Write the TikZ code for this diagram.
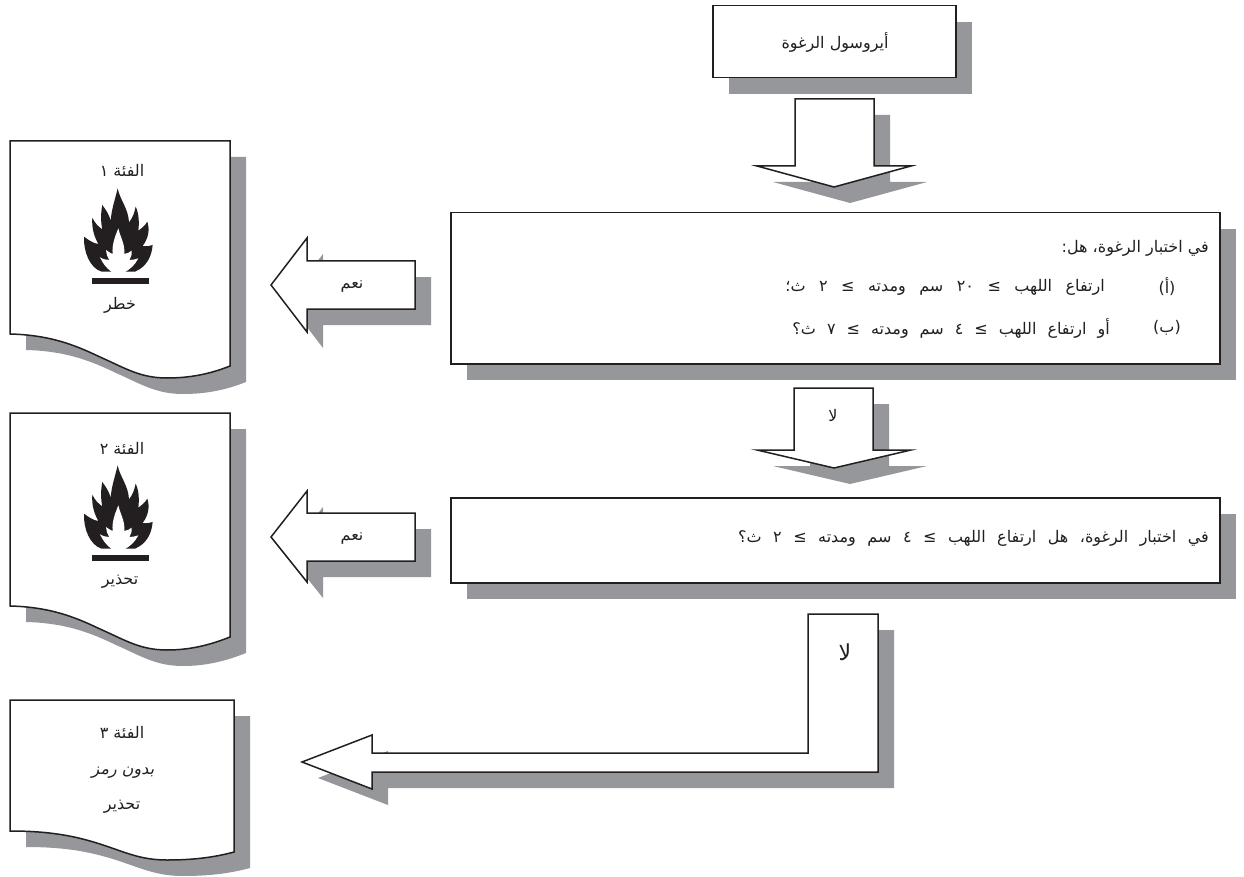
\documentclass[tikz,border=0pt]{standalone}
\usepackage{fontspec}
\usetikzlibrary{shadows}
\TeXXeTstate=1
\newfontfamily\arabicfont[Script=Arabic]{DejaVu Sans}
\newfontfamily\arabicslant[Script=Arabic,FakeSlant=0.2]{DejaVu Sans}
\newcommand\artxt[1]{\arabicfont\beginR #1\endR}
\newcommand\arnum[1]{\beginL #1\endL{}}
\definecolor{shadegrey}{RGB}{150,151,154}
\definecolor{inkblack}{RGB}{35,31,32}
\tikzset{
  shaded shape/.style={draw=inkblack,fill=white,line width=1.5pt,line join=miter,
    general shadow={fill=shadegrey,draw=none,shadow xshift=16pt,shadow yshift=-16pt}},
  question/.style={shaded shape,rectangle,inner sep=0pt,anchor=north west},
  label/.style={inner sep=0pt,text=inkblack,font=\fontsize{16}{18}\selectfont},
  biglabel/.style={label,font=\fontsize{22}{24}\selectfont},
  pics/flame/.style={code={
   \begin{scope}[x=0.3333pt,y=-0.3333pt]
    \fill[inkblack] (42,170) .. controls (55,180) and (70,190) .. (85,192)
      .. controls (70,165) and (65,140) .. (67,113)
      .. controls (75,130) and (85,140) .. (97,148)
      .. controls (92,125) and (92,100) .. (97,75)
      .. controls (108,90) and (118,105) .. (122,122)
      .. controls (125,85) and (135,60) .. (143,25)
      .. controls (150,60) and (175,85) .. (177,127)
      .. controls (187,115) and (193,100) .. (197,80)
      .. controls (207,100) and (208,130) .. (205,152)
      .. controls (215,145) and (225,137) .. (232,125)
      .. controls (240,150) and (235,175) .. (218,198)
      .. controls (230,200) and (240,198) .. (248,195)
      .. controls (245,230) and (230,260) .. (195,275)
      -- (95,275)
      .. controls (60,265) and (40,215) .. (42,170) -- cycle;
    \fill[white] (145,145) .. controls (152,175) and (165,190) .. (163,222)
      .. controls (172,220) and (180,217) .. (185,212)
      .. controls (186,225) and (183,232) .. (178,240)
      .. controls (188,240) and (197,238) .. (205,235)
      .. controls (195,255) and (180,268) .. (165,276)
      -- (125,276) .. controls (110,265) and (98,250) .. (90,232)
      .. controls (100,238) and (110,240) .. (118,240)
      .. controls (112,230) and (108,220) .. (108,210)
      .. controls (115,215) and (122,220) .. (128,222)
      .. controls (125,195) and (135,170) .. (145,145) -- cycle;
    \fill[inkblack] (67,295) rectangle (237,312);
   \end{scope}
  }}
}
\begin{document}
\begin{tikzpicture}[x=1pt,y=-1pt]
\useasboundingbox (0,0) rectangle (1244,877);

% top box
\node[question,minimum width=243pt,minimum height=72pt] (aerosol) at (712,5) {};
\node[label] (aerosoltxt) at (835,42) {\artxt{أيروسول الرغوة}};

% down arrow 1
\draw[shaded shape] (795,99) -- (874,99) -- (874,166) -- (911,166) -- (834,187) -- (757,166) -- (795,166) -- cycle;

% question 1
\node[question,minimum width=769pt,minimum height=151pt] (qone) at (450,212) {};
\node[label,anchor=east] (qonea) at (1209,248) {\artxt{في اختبار الرغوة، هل:}};
\node[label] (qoneb) at (1167,287) {\artxt{(أ)}};
\node[label,anchor=east] (qonec) at (1105,287) {\spaceskip=13.5pt\artxt{ارتفاع اللهب ≥ \arnum{٢٠} سم ومدته ≥ ٢ ث؛}};
\node[label] (qoned) at (1167,328) {\artxt{(ب)}};
\node[label,anchor=east] (qonee) at (1110,328) {\spaceskip=11pt\artxt{أو ارتفاع اللهب ≥ ٤ سم ومدته ≥ ٧ ث؟}};

% yes arrow 1
\draw[shaded shape] (415,261) -- (415,309) -- (307,309) -- (307,332) -- (271,285) -- (307,238) -- (307,261) -- cycle;
\node[label] (yesone) at (352,287) {\artxt{نعم}};

% down arrow 2
\draw[shaded shape] (794,388) -- (873,388) -- (873,450) -- (911,450) -- (834,468) -- (757,450) -- (794,450) -- cycle;
\node[label] (noone) at (833,415) {\artxt{لا}};

% question 2
\node[question,minimum width=769pt,minimum height=85pt] (qtwo) at (450,497) {};
\node[label,anchor=east] (qtwotxt) at (1209,538) {\spaceskip=11.5pt\artxt{في اختبار الرغوة، هل ارتفاع اللهب ≥ ٤ سم ومدته ≥ ٢ ث؟}};

% yes arrow 2
\draw[shaded shape] (415,513) -- (415,561) -- (307,561) -- (307,582) -- (271,537) -- (307,491) -- (307,513) -- cycle;
\node[label] (yestwo) at (352,539) {\artxt{نعم}};

% L arrow
\draw[shaded shape] (808,614) -- (878,614) -- (878,772) -- (372,772) -- (372,789) -- (302,762) -- (372,735) -- (372,753) -- (808,753) -- cycle;
\node[biglabel] (notwo) at (845,652) {\artxt{لا}};

% category 1
\draw[shaded shape] (10,141) -- (230,141) -- (230,366) .. controls (210,374) and (190,378) .. (167,378)
  .. controls (140,378) and (125,368) .. (100,357) .. controls (75,345) and (50,335) .. (10,334) -- cycle;
\node[label] (catone) at (122,170) {\artxt{الفئة ١}};
\pic at (70,180) {flame};
\node[label] (catonew) at (120,305) {\artxt{خطر}};

% category 2
\draw[shaded shape] (10,413) -- (230,413) -- (230,637) .. controls (210,645) and (190,650) .. (167,650)
  .. controls (140,650) and (125,640) .. (100,629) .. controls (75,617) and (50,607) .. (10,606) -- cycle;
\node[label] (cattwo) at (122,448) {\artxt{الفئة ٢}};
\pic at (70,457) {flame};
\node[label] (cattwow) at (120,582) {\artxt{تحذير}};

% category 3
\draw[shaded shape] (10,700) -- (234,700) -- (234,852) .. controls (212,858) and (190,860) .. (167,860)
  .. controls (140,860) and (125,852) .. (100,844) .. controls (75,836) and (50,831) .. (10,831) -- cycle;
\node[label] (catthree) at (122,732) {\artxt{الفئة ٣}};
\node[label] (catthrees) at (123,773) {\arabicslant\beginR بدون رمز\endR};
\node[label] (catthreew) at (122,807) {\artxt{تحذير}};
\end{tikzpicture}
\end{document}
